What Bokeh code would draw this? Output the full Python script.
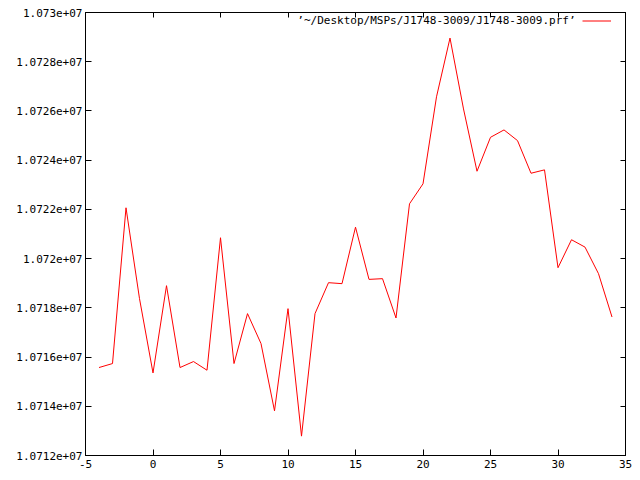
from bokeh.plotting import figure
from bokeh.models import (Range1d, FixedTicker, LinearAxis, Legend, LegendItem, Label)
from bokeh.embed import file_html
from bokeh.resources import INLINE

# data
xs = list(range(-4, 35))
ys = [10715574, 10715736, 10722065, 10718373, 10715355, 10718900, 10715574, 10715817,
      10715465, 10720848, 10715736, 10717765, 10716548, 10713814, 10717967, 10712787,
      10717765, 10719022, 10718982, 10721278, 10719156, 10719185, 10717587, 10722227,
      10723038, 10726574, 10728961, 10726081, 10723550, 10724929, 10725229, 10724795,
      10723469, 10723606, 10719631, 10720767, 10720467, 10719387, 10717627]
x_ticks = [-5, 0, 5, 10, 15, 20, 25, 30, 35]
y_ticks = [10712000, 10714000, 10716000, 10718000, 10720000, 10722000, 10724000,
           10726000, 10728000, 10730000]
y_labels = ["1.0712e+07", "1.0714e+07", "1.0716e+07", "1.0718e+07", "1.072e+07",
            "1.0722e+07", "1.0724e+07", "1.0726e+07", "1.0728e+07", "1.073e+07"]
series_name = "\u2019~/Desktop/MSPs/J1748-3009/J1748-3009.prf\u2019"

FONT = "DejaVu Sans Mono"
FS = "11px"

p = figure(width=640, height=480, output_backend="svg", toolbar_location=None,
           x_range=Range1d(-5, 35), y_range=Range1d(10712000, 10730000),
           x_axis_type=None, y_axis_type=None,
           min_border_left=85, min_border_right=15, min_border_top=12, min_border_bottom=25)
p.grid.visible = False
p.outline_line_color = "black"
p.outline_line_width = 1
p.background_fill_color = "white"
p.border_fill_color = "white"


def make_axis(ticks, labels, show):
    ax = LinearAxis(ticker=FixedTicker(ticks=ticks))
    ax.major_label_overrides = {t: (l if show else "") for t, l in zip(ticks, labels)}
    ax.major_tick_in = 6
    ax.major_tick_out = 0
    ax.minor_tick_line_color = None
    ax.axis_line_color = "black"
    ax.major_tick_line_color = "black"
    ax.major_label_text_font = FONT
    ax.major_label_text_font_size = FS
    ax.major_label_text_color = "black"
    return ax

xl = [str(t) for t in x_ticks]
bx = make_axis(x_ticks, xl, True)
bx.major_label_standoff = 4
p.add_layout(bx, "below")
ly = make_axis(y_ticks, y_labels, True)
ly.major_label_standoff = 3
p.add_layout(ly, "left")
tx = make_axis(x_ticks, xl, False)
tx.major_label_standoff = 0
tx.major_tick_in = 5
p.add_layout(tx, "above")
ry = make_axis(y_ticks, y_labels, False)
ry.major_label_standoff = 0
ry.major_tick_in = 5
p.add_layout(ry, "right")

r = p.line(xs, ys, line_color="#ff0000", line_width=1)

lab = Label(x=490, y=435, x_units="screen", y_units="screen", text=series_name,
            text_align="right", text_baseline="middle", text_font=FONT,
            text_font_size=FS, text_color="black")
p.add_layout(lab)

leg = Legend(items=[LegendItem(label=" ", renderers=[r])], location=(497, 429),
             padding=0, margin=0, spacing=0, label_standoff=0, label_width=0,
             glyph_width=29, glyph_height=11, border_line_color=None,
             background_fill_alpha=0, label_text_font_size="1px")
p.add_layout(leg, "center")

open("out.html", "w").write(file_html(p, INLINE))
